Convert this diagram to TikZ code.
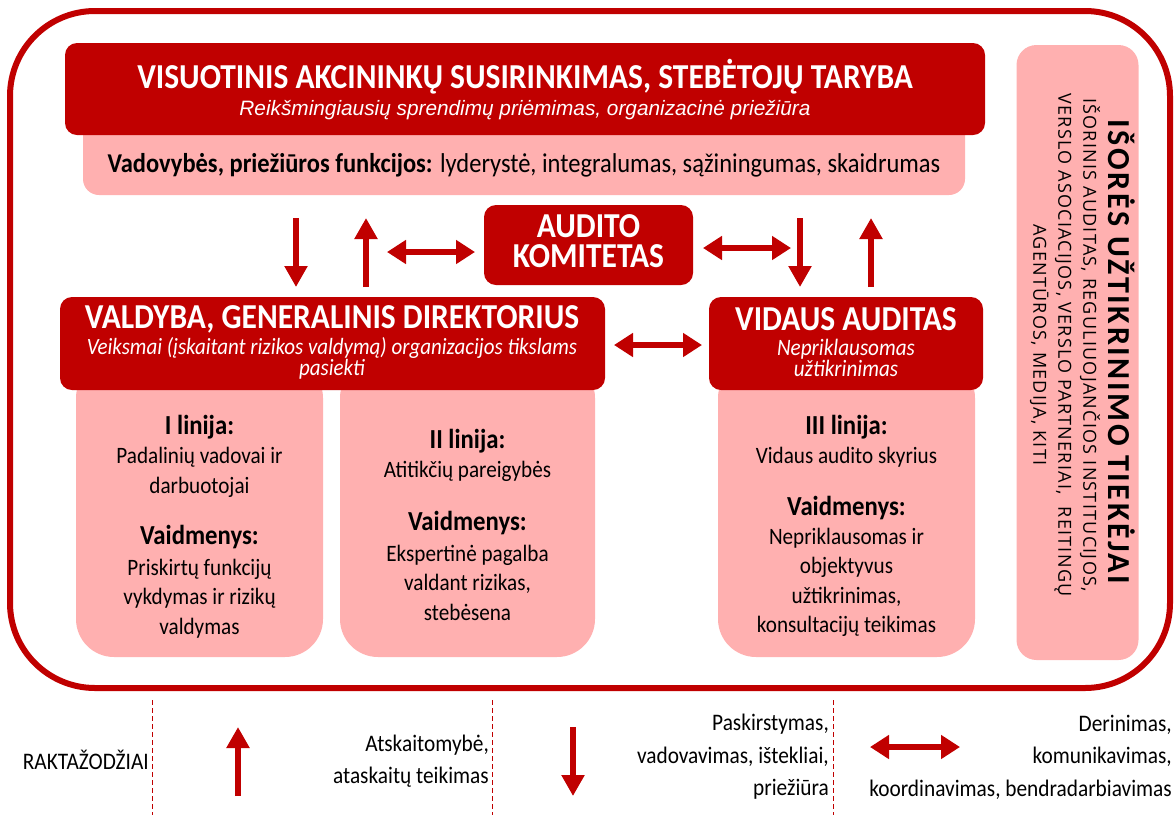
\documentclass[tikz,border=0pt]{standalone}
\usepackage{fontspec}
\setmainfont{Carlito}[FakeStretch=0.9]
\newfontfamily\arialf{Liberation Sans}
\newfontfamily\titlesp{Carlito}[LetterSpace=8.0]
\newfontfamily\opensans{Open Sans}[LetterSpace=7.0]
\usetikzlibrary{arrows.meta}
\definecolor{dred}{RGB}{192,0,0}
\definecolor{lpink}{RGB}{255,176,176}
\begin{document}
\begin{tikzpicture}[x=1pt,y=-1pt,
  darkbox/.style={fill=dred, rounded corners=12pt, inner sep=0pt},
  pinkbox/.style={fill=lpink, inner sep=0pt},
  bigarrow/.style={draw=dred, line width=6.5pt, -{Triangle[width=22pt,length=21pt]}},
  dblarrow/.style={draw=dred, line width=6.5pt, {Triangle[width=23pt,length=19pt]}-{Triangle[width=23pt,length=19pt]}},
  legline/.style={draw=dred, line width=0.9pt, dash pattern=on 5pt off 3pt},
  wtitle/.style={text=white, font=\bfseries\fontsize{35}{36}\selectfont, inner sep=0pt},
  head/.style={font=\bfseries\fontsize{27.5}{29}\selectfont, inner sep=0pt},
  body/.style={font=\fontsize{23.5}{29.5}\selectfont, align=center, inner sep=0pt},
  legend/.style={font=\fontsize{23.7}{32.5}\selectfont, align=right, anchor=east, inner sep=0pt}
]
\useasboundingbox (0,0) rectangle (1176,815);
% outer frame
\node[draw=dred, line width=6pt, rounded corners=85pt, minimum width=1160pt, minimum height=677pt, inner sep=0pt] (frame) at (590,349.5) {};
% top group
\node[pinkbox, rounded corners=16pt, minimum width=882pt, minimum height=95pt] (toppink) at (524,147.5) {};
\node[darkbox, minimum width=920pt, minimum height=92pt] (top) at (525,89) {};
\node[wtitle] (toptitle) at (525,77) {VISUOTINIS AKCININKŲ SUSIRINKIMAS, STEBĖTOJŲ TARYBA};
\node[text=white, font=\arialf\itshape\fontsize{20.8}{22}\selectfont, inner sep=0pt] (topsub) at (525,110) {Reikšmingiausių sprendimų priėmimas, organizacinė priežiūra};
\node[font=\fontsize{27.2}{28}\selectfont, inner sep=0pt] (topfun) at (524,165) {\textbf{Vadovybės, priežiūros funkcijos:} lyderystė, integralumas, sąžiningumas, skaidrumas};
% audit committee
\node[darkbox, minimum width=209pt, minimum height=80pt] (audit) at (588.5,245) {};
\node[text=white, font=\bfseries\fontsize{35}{29.5}\selectfont, align=center, inner sep=0pt] (audittext) at (588.5,241) {AUDITO\\KOMITETAS};
% pink columns
\node[pinkbox, rounded corners=38pt, minimum width=247pt, minimum height=297pt] (col1) at (199.5,508.5) {};
\node[pinkbox, rounded corners=38pt, minimum width=255pt, minimum height=297pt] (col2) at (467.5,508.5) {};
\node[pinkbox, rounded corners=38pt, minimum width=257pt, minimum height=297pt] (col3) at (846.5,508.5) {};
% management box
\node[darkbox, minimum width=545pt, minimum height=93pt] (board) at (332.5,343.5) {};
\node[wtitle] (boardtitle) at (332,319) {VALDYBA, GENERALINIS DIREKTORIUS};
\node[text=white, font=\itshape\fontsize{23.3}{19.5}\selectfont, align=center, inner sep=0pt] (boardsub) at (332,358) {Veiksmai (įskaitant rizikos valdymą) organizacijos tikslams\\pasiekti};
% internal audit box
\node[darkbox, minimum width=274pt, minimum height=93pt] (ia) at (846,343.5) {};
\node[wtitle] (iatitle) at (846,319) {VIDAUS AUDITAS};
\node[text=white, font=\itshape\fontsize{23.5}{19.5}\selectfont, align=center, inner sep=0pt] (iasub) at (846,358) {Nepriklausomas\\užtikrinimas};
% column texts
\node[head] (c1h) at (199.5,427) {I linija:};
\node[body] (c1b) at (199.5,472.5) {Padalinių vadovai ir\\darbuotojai};
\node[head] (c1v) at (199.5,537) {Vaidmenys:};
\node[body] (c1r) at (199.5,598.5) {Priskirtų funkcijų\\vykdymas ir rizikų\\valdymas};
\node[head] (c2h) at (467.5,441) {II linija:};
\node[body] (c2b) at (467.5,471) {Atitikčių pareigybės};
\node[head] (c2v) at (467.5,523) {Vaidmenys:};
\node[body] (c2r) at (467.5,582.5) {Ekspertinė pagalba\\valdant rizikas,\\stebėsena};
\node[head] (c3h) at (846.5,427) {III linija:};
\node[body] (c3b) at (846.5,457) {Vidaus audito skyrius};
\node[head] (c3v) at (846.5,508) {Vaidmenys:};
\node[body] (c3r) at (846.5,582.5) {Nepriklausomas ir\\objektyvus\\užtikrinimas,\\konsultacijų teikimas};
% external assurance
\node[pinkbox, rounded corners=20pt, minimum width=122pt, minimum height=615pt] (ext) at (1077.5,352.5) {};
\node[rotate=-90, font=\titlesp\bfseries\fontsize{32}{33}\selectfont, inner sep=0pt] (exttitle) at (1122,352) {IŠORĖS UŽTIKRINIMO TIEKĖJAI};
\node[rotate=-90, font=\opensans\fontsize{18}{25}\selectfont, align=center, inner sep=0pt] (extbody) at (1065,345) {IŠORINIS AUDITAS, REGULIUOJANČIOS INSTITUCIJOS,\\VERSLO ASOCIACIJOS, VERSLO PARTNERIAI,\ \ REITINGŲ\\AGENTŪROS, MEDIJA, KITI};
% arrows between levels
\coordinate (d1s) at (296,218); \coordinate (d1e) at (296,287);
\coordinate (u1s) at (366,287); \coordinate (u1e) at (366,218);
\coordinate (h1s) at (387,252); \coordinate (h1e) at (475,252);
\coordinate (h2s) at (703,248); \coordinate (h2e) at (791,248);
\coordinate (d2s) at (800,218); \coordinate (d2e) at (800,287);
\coordinate (u2s) at (871,287); \coordinate (u2e) at (871,218);
\coordinate (h3s) at (614,345); \coordinate (h3e) at (702,345);
\draw[bigarrow] (d1s) -- (d1e);
\draw[bigarrow] (u1s) -- (u1e);
\draw[dblarrow] (h1s) -- (h1e);
\draw[dblarrow] (h2s) -- (h2e);
\draw[bigarrow] (d2s) -- (d2e);
\draw[bigarrow] (u2s) -- (u2e);
\draw[dblarrow] (h3s) -- (h3e);
% legend
\coordinate (l1t) at (152,700); \coordinate (l1b) at (152,815);
\coordinate (l2t) at (492,700); \coordinate (l2b) at (492,815);
\coordinate (l3t) at (833,700); \coordinate (l3b) at (833,815);
\draw[legline] (l1t) -- (l1b);
\draw[legline] (l2t) -- (l2b);
\draw[legline] (l3t) -- (l3b);
\node[legend] (key) at (149,760) {RAKTAŽODŽIAI};
\coordinate (lus) at (238,796); \coordinate (lue) at (238,727);
\draw[bigarrow] (lus) -- (lue);
\node[legend] (leg1) at (489,761) {Atskaitomybė,\\ataskaitų teikimas};
\coordinate (lds) at (573,727); \coordinate (lde) at (573,796);
\draw[bigarrow] (lds) -- (lde);
\node[legend] (leg2) at (829,757) {Paskirstymas,\\vadovavimas, ištekliai,\\priežiūra};
\coordinate (lhs) at (870,747); \coordinate (lhe) at (960,747);
\draw[dblarrow] (lhs) -- (lhe);
\node[legend] (leg3) at (1172,757) {Derinimas,\\komunikavimas,\\koordinavimas, bendradarbiavimas};
\end{tikzpicture}
\end{document}
